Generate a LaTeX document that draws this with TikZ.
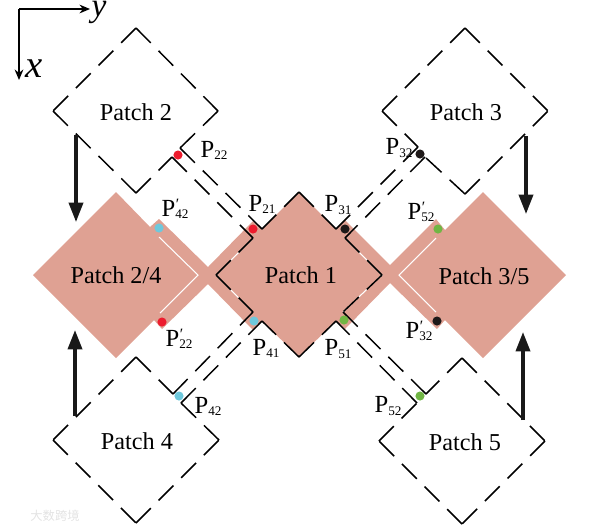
\documentclass[tikz,border=0pt]{standalone}
\usepackage{fontspec}
\setmainfont{Liberation Serif}
\newfontfamily\cjk{Noto Sans CJK SC}
\usetikzlibrary{arrows.meta,positioning,calc}
\definecolor{patchpink}{RGB}{223,161,147}
\definecolor{dotred}{RGB}{237,28,46}
\definecolor{dotcyan}{RGB}{110,200,220}
\definecolor{dotgreen}{RGB}{112,182,68}
\definecolor{dotblack}{RGB}{30,25,25}
\newcommand{\plab}[1]{P\raisebox{-1.2pt}{\fontsize{7.5}{8}\selectfont #1}}
\newcommand{\pplab}[1]{P\rlap{\raisebox{4pt}{\fontsize{9}{9}\selectfont\kern0.4pt ′}}\raisebox{-1.2pt}{\fontsize{7.5}{8}\selectfont #1}}
\begin{document}
\begin{tikzpicture}[
  x=0.02cm,y=-0.02cm,
  patchlabel/.style={inner sep=0pt,font=\fontsize{13.8}{16}\selectfont},
  pointlabel/.style={inner sep=0pt,font=\fontsize{14}{16}\selectfont},
  axislabel/.style={inner sep=0pt,font=\fontsize{22}{22}\selectfont\itshape},
  marklabel/.style={inner sep=0pt,text=black!11,font=\fontsize{7}{8}\selectfont\cjk},
  dashedge/.style={black,line width=0.85pt,dash pattern=on 11.95pt off 6.26pt},
  pt/.style={circle,fill=#1,minimum size=5.2pt,inner sep=0pt},
  bigarrow/.style={-{Triangle[length=11pt,width=8pt]},line width=1.9pt,black!90},
  axisarrow/.style={-{Stealth[length=6pt,width=5pt]},line width=0.8pt,black}
]
\useasboundingbox (0,0) rectangle (602,529);

% Filled outline of the merged patches
\fill[patchpink] (299,192) -- (336,229) -- (345,220) -- (390,265) -- (436,219)
  -- (445,230) -- (483,192) -- (566,275) -- (483,358) -- (445,320) -- (437,329)
  -- (390,283) -- (345,329) -- (336,321) -- (299,357) -- (262,321) -- (253,330)
  -- (208,284) -- (162,329) -- (154,320) -- (116,358) -- (33,275) -- (116,192)
  -- (150,227) -- (159,219) -- (208,267) -- (253,221) -- (262,229) -- cycle;

% White inner lines
\draw[white,line width=0.6pt] (159,237) -- (198,275) -- (160,313);
\draw[white,line width=0.6pt] (436,238) -- (399,275) -- (436,312);
\draw[white,line width=0.6pt] (253,238) -- (216,275) -- (253,312);
\draw[white,line width=0.6pt] (345,238) -- (382,275) -- (343,312);

% Corners of the dashed patches
\coordinate (t2) at (136,28);  \coordinate (l2) at (53,111);
\coordinate (r2) at (218,111); \coordinate (b2) at (136,193);
\coordinate (t3) at (465,28);  \coordinate (l3) at (382,111);
\coordinate (r3) at (548,111); \coordinate (b3) at (465,194);
\coordinate (t4) at (136,357); \coordinate (l4) at (53,440);
\coordinate (r4) at (219,440); \coordinate (b4) at (136,523);
\coordinate (t5) at (462,358); \coordinate (l5) at (379,441);
\coordinate (r5) at (545,441); \coordinate (b5) at (462,524);
\coordinate (t1) at (299,192); \coordinate (l1) at (216,275);
\coordinate (r1) at (382,275); \coordinate (b1) at (299,357);

% Ends of the double lines
\coordinate (a2) at (180,148); \coordinate (c2) at (172,157);
\coordinate (a1) at (262,229); \coordinate (c1) at (253,238);
\coordinate (a3) at (418,147); \coordinate (c3) at (425,157);
\coordinate (d1) at (336,229); \coordinate (e1) at (345,238);
\coordinate (a4) at (173,394); \coordinate (c4) at (181,403);
\coordinate (f1) at (253,312); \coordinate (g1) at (262,321);
\coordinate (a5) at (426,394); \coordinate (c5) at (417,403);
\coordinate (h1) at (343,312); \coordinate (i1) at (336,321);

% Patch 2
\draw[dashedge] (t2) -- (l2) (l2) -- (b2) (b2) -- (c2) (r2) -- (a2) (t2) -- (r2);
% Patch 3
\draw[dashedge] (t3) -- (l3) (l3) -- (a3) (b3) -- (c3) (b3) -- (r3) (t3) -- (r3);
% Patch 4
\draw[dashedge] (t4) -- (l4) (l4) -- (b4) (b4) -- (r4) (r4) -- (c4) (t4) -- (a4);
% Patch 5
\draw[dashedge] (t5) -- (r5) (r5) -- (b5) (b5) -- (l5) (l5) -- (c5) (t5) -- (a5);
% Patch 1
\draw[dashedge] (t1) -- (a1) (l1) -- (c1) (l1) -- (f1) (b1) -- (g1)
  (t1) -- (d1) (r1) -- (e1) (r1) -- (h1) (b1) -- (i1);
% Double lines between the patches
\draw[dashedge] (a2) -- (a1) (c2) -- (c1);
\draw[dashedge] (a3) -- (d1) (c3) -- (e1);
\draw[dashedge] (a4) -- (f1) (c4) -- (g1);
\draw[dashedge] (a5) -- (h1) (c5) -- (i1);

% Patch names
\node[patchlabel] (p2) at (136,112) {Patch 2};
\node[patchlabel] (p3) at (466,112) {Patch 3};
\node[patchlabel] (p24) at (116,275) {Patch 2/4};
\node[patchlabel] (p1) at (301,275) {Patch 1};
\node[patchlabel] (p35) at (484,276) {Patch 3/5};
\node[patchlabel] (p4) at (137,441) {Patch 4};
\node[patchlabel] (p5) at (465,442) {Patch 5};

% Coloured points
\node[pt=dotred] (n22) at (178,155) {};
\node[pt=dotred] (n21) at (253,229) {};
\node[pt=dotred] (m22) at (162,322) {};
\node[pt=dotcyan] (m42) at (159,228) {};
\node[pt=dotcyan] (n41) at (254,321) {};
\node[pt=dotcyan] (n42) at (179,396) {};
\node[pt=dotblack] (n32) at (420,154) {};
\node[pt=dotblack] (n31) at (345,229) {};
\node[pt=dotblack] (m32) at (437,321) {};
\node[pt=dotgreen] (m52) at (438,229) {};
\node[pt=dotgreen] (n51) at (344,320) {};
\node[pt=dotgreen] (n52) at (420,396) {};

% Point labels
\node[pointlabel] (q22) at (214,150) {\plab{22}};
\node[pointlabel] (q21) at (262,204) {\plab{21}};
\node[pointlabel] (q42) at (208,406) {\plab{42}};
\node[pointlabel] (q41) at (266,348) {\plab{41}};
\node[pointlabel] (q31) at (338,205) {\plab{31}};
\node[pointlabel] (q32) at (399,148) {\plab{32}};
\node[pointlabel] (q51) at (338,349) {\plab{51}};
\node[pointlabel] (q52) at (388,406) {\plab{52}};
\node[pointlabel] (r42) at (175,209) {\pplab{42}};
\node[pointlabel] (r22) at (179,339) {\pplab{22}};
\node[pointlabel] (r52) at (421,212) {\pplab{52}};
\node[pointlabel] (r32) at (419,331) {\pplab{32}};

% Thick arrows into the merged patches
\coordinate (s2) at (76,135);  \coordinate (e2) at (76,222);
\coordinate (s4) at (75,416);  \coordinate (e4) at (75,330);
\coordinate (s3) at (526,136); \coordinate (e3) at (526,214);
\coordinate (s5) at (523,420); \coordinate (e5) at (523,332);
\draw[bigarrow] (s2) -- (e2);
\draw[bigarrow] (s4) -- (e4);
\draw[bigarrow] (s3) -- (e3);
\draw[bigarrow] (s5) -- (e5);

% Axes
\coordinate (o) at (19,9);
\coordinate (yend) at (90,9);
\coordinate (xend) at (19,80);
\draw[axisarrow] (o) -- (yend);
\draw[axisarrow] (o) -- (xend);
\node[axislabel,font=\fontsize{19}{19}\selectfont\itshape] (ylab) at (99,12) {y};
\node[axislabel] (xlab) at (34,69) {x};

% Site mark
\node[marklabel] (mark) at (55,516) {大数跨境};

\end{tikzpicture}
\end{document}
